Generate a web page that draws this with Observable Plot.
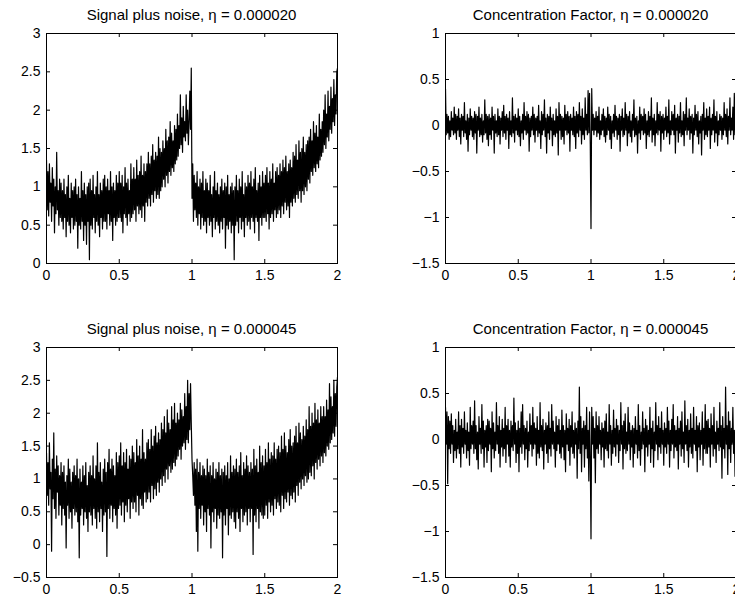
<!DOCTYPE html>
<html>
<head>
<meta charset="utf-8">
<script src="https://cdn.jsdelivr.net/npm/d3@7"></script>
<script src="https://cdn.jsdelivr.net/npm/@observablehq/plot@0.6"></script>
<style>
  html, body { margin: 0; padding: 0; background: #fff; overflow: hidden; }
  #wrap { position: relative; width: 735px; height: 599px; overflow: hidden; font-family: "Liberation Sans", Arial, sans-serif; }
  .panel { position: absolute; }
  .title { position: absolute; width: 291px; text-align: center; font-size: 15px; line-height: 18px; height: 18px; color: #000; white-space: nowrap; }
</style>
</head>
<body>
<div id="wrap"></div>
<script>
// Sampling positions (x from 0 to 2 in steps of 0.005)
const xs = d3.range(0, 401).map(i => i / 200);

// Signal plus noise, eta = 0.000020
const signal020 = [
 1.35,0.70,1.20,0.62,1.30,0.80,1.05,0.55,1.25,0.75,1.10,0.40,1.00,0.65,1.45,0.70,0.95,0.50,1.10,0.60,
 1.05,0.55,0.95,0.45,1.10,0.60,0.90,0.35,1.00,0.55,1.15,0.50,0.85,0.40,1.05,0.60,0.95,0.45,1.00,0.50,
 1.10,0.55,0.90,0.20,1.00,0.50,0.85,0.45,1.20,0.55,0.95,0.30,1.05,0.50,0.90,0.25,1.00,0.55,1.05,0.05,
 1.10,0.50,0.95,0.45,1.15,0.60,0.90,0.40,1.00,0.55,1.20,0.50,0.90,0.35,1.05,0.60,0.95,0.45,1.10,0.55,
 1.15,0.55,1.00,0.45,1.10,0.65,0.95,0.50,1.20,0.55,1.00,0.30,1.05,0.60,0.95,0.50,1.15,0.55,1.05,0.60,
 1.20,0.60,1.05,0.55,1.15,0.40,1.00,0.65,1.25,0.60,1.05,0.50,1.10,0.65,0.95,0.55,1.30,0.60,1.10,0.65,
 1.25,0.70,1.10,0.55,1.35,0.75,1.15,0.65,1.20,0.70,1.40,0.60,1.15,0.75,1.30,0.55,1.20,0.80,1.30,0.75,
 1.45,0.85,1.30,0.75,1.40,0.90,1.55,0.80,1.35,0.95,1.45,0.85,1.40,0.90,1.65,0.85,1.50,0.95,1.45,1.00,
 1.60,1.10,1.50,1.00,1.75,1.15,1.60,1.05,1.65,1.20,1.85,1.15,1.70,1.25,1.60,1.20,1.80,1.30,1.75,1.35,
 1.95,1.40,1.80,1.50,2.20,1.55,1.90,1.45,2.05,1.65,1.85,1.60,2.20,1.70,2.00,1.55,1.85,2.25,1.75,2.55,
 0.85,1.30,0.55,1.15,0.70,1.05,0.60,1.20,0.50,1.00,0.65,1.10,0.45,1.05,0.60,1.20,0.50,0.95,0.55,1.10,
 0.40,1.05,0.60,0.95,0.50,1.15,0.55,0.90,0.35,1.00,0.60,1.20,0.45,0.95,0.55,1.05,0.50,0.90,0.40,1.00,
 0.55,1.10,0.45,0.95,0.60,1.05,0.20,1.00,0.50,1.15,0.45,0.90,0.55,1.00,0.40,1.05,0.50,0.95,0.05,1.00,
 0.50,1.15,0.55,0.95,0.40,1.10,0.60,1.00,0.45,1.20,0.55,0.90,0.35,1.05,0.60,1.00,0.50,1.15,0.55,1.05,
 0.45,1.20,0.60,1.00,0.55,1.10,0.40,1.25,0.60,0.95,0.55,1.05,0.30,1.15,0.60,1.00,0.50,1.20,0.60,1.05,
 0.60,1.15,0.55,1.25,0.65,1.05,0.45,1.20,0.60,1.10,0.65,1.30,0.55,1.05,0.70,1.20,0.60,1.25,0.65,1.15,
 0.70,1.30,0.60,1.20,0.75,1.35,0.65,1.25,0.80,1.40,0.70,1.20,0.75,1.30,0.60,1.35,0.80,1.25,0.75,1.45,
 0.85,1.40,0.80,1.55,0.90,1.35,0.85,1.60,0.95,1.45,0.80,1.50,0.95,1.65,0.90,1.45,1.00,1.55,0.95,1.60,
 1.10,1.65,1.05,1.75,1.20,1.60,1.15,1.85,1.25,1.70,1.20,1.80,1.30,1.65,1.25,1.95,1.35,1.75,1.40,1.85,
 1.45,2.00,1.55,2.20,1.50,1.95,1.65,2.25,1.60,2.05,1.75,2.30,1.70,2.15,1.85,2.40,1.80,2.20,1.95,2.50,
 2.55
];

// Concentration factor, eta = 0.000020
const conc020 = [
 0.40,-0.10,0.12,-0.08,0.10,-0.15,0.05,-0.12,0.15,-0.05,0.08,-0.10,0.20,-0.08,0.12,-0.15,0.10,-0.05,0.18,-0.12,
 0.08,-0.20,0.12,-0.05,0.10,-0.12,0.25,-0.08,0.05,-0.15,0.12,-0.28,0.08,-0.10,0.18,-0.05,0.10,-0.12,0.08,-0.15,
 0.15,-0.08,0.12,-0.30,0.10,-0.05,0.20,-0.12,0.08,-0.10,0.12,-0.18,0.05,-0.10,0.28,-0.08,0.12,-0.15,0.10,-0.22,
 0.12,-0.10,0.08,-0.15,0.20,-0.05,0.10,-0.30,0.12,-0.08,0.05,-0.12,0.18,-0.10,0.10,-0.20,0.08,-0.05,0.15,-0.12,
 0.22,-0.08,0.10,-0.15,0.12,-0.05,0.08,-0.25,0.15,-0.10,0.05,-0.12,0.30,-0.08,0.10,-0.18,0.12,-0.05,0.08,-0.10,
 0.18,-0.12,0.10,-0.22,0.05,-0.08,0.12,-0.15,0.25,-0.05,0.10,-0.10,0.15,-0.08,0.12,-0.28,0.08,-0.12,0.10,-0.05,
 0.20,-0.10,0.12,-0.18,0.08,-0.05,0.10,-0.12,0.22,-0.08,0.05,-0.25,0.15,-0.10,0.12,-0.05,0.28,-0.12,0.08,-0.30,
 0.12,-0.08,0.10,-0.15,0.20,-0.05,0.08,-0.22,0.12,-0.10,0.05,-0.12,0.18,-0.08,0.10,-0.32,0.25,-0.05,0.12,-0.15,
 0.10,-0.12,0.08,-0.20,0.22,-0.05,0.12,-0.10,0.15,-0.08,0.10,-0.28,0.12,-0.05,0.08,-0.10,0.20,-0.12,0.10,-0.25,
 0.15,-0.08,0.12,-0.12,0.25,-0.05,0.10,-0.20,0.18,-0.10,0.08,-0.15,0.30,-0.05,0.12,-0.10,0.38,-0.08,0.35,-0.20,
 -1.12,0.40,-0.05,0.12,-0.10,0.08,-0.05,0.15,-0.12,0.10,-0.08,0.20,-0.15,0.05,-0.10,0.12,-0.05,0.18,-0.12,0.10,
 -0.18,0.08,-0.10,0.20,-0.05,0.12,-0.15,0.10,-0.25,0.05,-0.08,0.12,-0.12,0.22,-0.05,0.10,-0.15,0.08,-0.10,0.12,
 -0.28,0.10,-0.05,0.18,-0.12,0.08,-0.10,0.25,-0.05,0.12,-0.22,0.10,-0.08,0.15,-0.12,0.05,-0.18,0.12,-0.05,0.28,
 -0.12,0.08,-0.10,0.10,-0.30,0.05,-0.08,0.20,-0.15,0.12,-0.05,0.10,-0.10,0.18,-0.08,0.12,-0.25,0.05,-0.10,0.15,
 -0.12,0.10,-0.05,0.30,-0.18,0.08,-0.10,0.12,-0.22,0.05,-0.08,0.25,-0.10,0.12,-0.05,0.15,-0.28,0.10,-0.08,0.12,
 -0.15,0.08,-0.05,0.20,-0.12,0.10,-0.08,0.28,-0.20,0.05,-0.10,0.15,-0.05,0.12,-0.10,0.22,-0.30,0.08,-0.05,0.12,
 -0.18,0.10,-0.08,0.25,-0.12,0.05,-0.10,0.15,-0.22,0.12,-0.05,0.30,-0.10,0.08,-0.05,0.18,-0.15,0.10,-0.08,0.12,
 -0.30,0.08,-0.10,0.22,-0.05,0.12,-0.12,0.15,-0.20,0.05,-0.08,0.10,-0.32,0.12,-0.05,0.25,-0.15,0.08,-0.10,0.18,
 -0.12,0.10,-0.05,0.20,-0.25,0.08,-0.10,0.12,-0.05,0.28,-0.18,0.10,-0.08,0.15,-0.22,0.05,-0.10,0.12,-0.05,0.10,
 -0.15,0.08,-0.10,0.25,-0.05,0.12,-0.12,0.18,-0.20,0.10,-0.05,0.30,-0.10,0.08,-0.05,0.20,-0.15,0.35,-0.10,0.38,
 -1.12
];

// Signal plus noise, eta = 0.000045
const signal045 = [
 1.40,0.75,1.25,0.60,1.55,0.85,1.10,-0.10,1.30,0.70,1.70,0.55,1.15,0.40,1.35,0.80,1.20,0.45,1.05,0.60,
 1.25,0.30,1.10,0.55,1.20,0.45,0.95,-0.05,1.05,0.60,1.30,0.40,1.15,0.50,0.95,0.25,1.10,0.55,1.20,0.45,
 1.05,0.50,1.30,0.35,1.00,-0.20,1.15,0.45,0.95,0.55,1.20,0.30,1.05,0.50,1.25,0.40,0.90,0.20,1.10,0.50,
 1.20,0.45,1.05,0.30,1.35,0.55,1.00,0.40,1.20,0.25,1.55,0.50,1.10,0.35,1.25,0.55,0.95,0.20,1.15,0.45,
 1.30,0.50,1.10,-0.18,1.25,0.55,1.45,0.40,1.15,0.60,1.30,0.35,1.20,0.55,1.05,0.45,1.40,0.25,1.25,0.55,
 1.35,0.60,1.55,0.45,1.20,0.65,1.40,0.35,1.25,0.60,1.45,0.50,1.15,0.70,1.35,0.40,1.30,0.65,1.50,0.55,
 1.40,0.65,1.25,0.50,1.60,0.75,1.35,0.45,1.50,0.70,1.30,0.60,1.75,0.55,1.40,0.80,1.30,0.65,1.55,0.70,
 1.60,0.80,1.45,0.65,1.75,0.90,1.50,0.70,1.65,0.85,1.80,0.75,1.55,0.95,1.70,0.80,1.60,1.00,1.85,0.90,
 1.75,1.05,1.95,0.95,1.70,1.15,2.05,1.00,1.85,1.20,1.75,1.10,2.10,1.15,1.90,1.25,2.15,1.20,1.85,1.30,
 2.00,1.35,1.90,1.45,2.15,1.30,2.05,1.50,1.95,1.55,2.30,1.45,2.10,1.60,2.50,1.55,2.30,1.75,2.45,1.85,
 1.30,1.05,0.75,1.25,0.60,1.15,0.20,1.30,-0.10,1.10,0.55,1.25,0.40,1.05,0.60,1.20,0.30,1.15,0.50,1.05,
 0.20,1.30,0.55,1.10,0.45,1.20,-0.05,1.05,0.50,1.25,0.35,1.00,0.55,1.15,0.25,1.10,0.45,1.25,0.40,1.05,
 0.50,1.15,-0.20,1.10,0.45,1.20,0.30,1.05,0.55,1.25,0.15,1.00,0.45,1.35,0.40,1.10,0.50,1.20,0.35,1.15,
 0.25,1.30,0.50,1.10,0.40,1.20,0.20,1.40,0.55,1.05,0.35,1.25,0.45,1.15,0.50,1.35,0.30,1.20,0.55,1.10,
 0.35,1.25,0.55,1.15,-0.15,1.45,0.45,1.20,0.35,1.30,0.55,1.10,0.25,1.50,0.50,1.25,0.45,1.35,0.40,1.20,
 0.45,1.45,0.60,1.25,0.40,1.55,0.65,1.30,0.50,1.40,0.60,1.35,0.45,1.55,0.70,1.30,0.55,1.45,0.65,1.50,
 0.60,1.40,0.50,1.65,0.75,1.45,0.55,1.70,0.70,1.50,0.65,1.40,0.80,1.60,0.60,1.75,0.75,1.50,0.70,1.55,
 0.80,1.65,0.65,1.80,0.90,1.55,0.75,1.85,0.95,1.70,0.85,1.60,1.00,1.80,0.90,1.65,1.05,1.90,0.95,1.75,
 1.00,2.10,1.10,1.80,1.05,2.00,1.20,1.85,1.00,2.15,1.25,1.90,1.15,2.05,1.30,1.85,1.20,2.10,1.35,1.95,
 1.25,2.10,1.40,1.95,1.35,2.20,1.50,2.05,1.45,2.45,1.55,2.25,1.60,2.10,1.70,2.50,1.65,2.30,1.80,2.40,
 2.55
];

// Concentration factor, eta = 0.000045
const conc045 = [
 0.35,-0.05,0.30,-0.48,0.25,-0.10,0.20,-0.15,0.28,-0.05,0.15,-0.25,0.10,-0.12,0.22,-0.20,0.08,-0.10,0.30,-0.15,
 0.15,-0.30,0.22,-0.08,0.12,-0.15,0.30,-0.05,0.10,-0.20,0.18,-0.12,0.08,-0.28,0.35,-0.10,0.15,-0.05,0.20,-0.15,
 0.42,-0.10,0.15,-0.22,0.08,-0.32,0.25,-0.05,0.12,-0.15,0.38,-0.10,0.20,-0.30,0.10,-0.08,0.15,-0.25,0.22,-0.12,
 0.20,-0.05,0.12,-0.35,0.30,-0.10,0.18,-0.20,0.08,-0.12,0.40,-0.05,0.15,-0.15,0.25,-0.30,0.10,-0.08,0.22,-0.18,
 0.12,-0.10,0.35,-0.25,0.15,-0.05,0.22,-0.18,0.10,-0.30,0.20,-0.08,0.15,-0.12,0.45,-0.05,0.18,-0.25,0.10,-0.15,
 0.20,-0.35,0.12,-0.08,0.30,-0.15,0.38,-0.05,0.15,-0.22,0.12,-0.10,0.20,-0.30,0.08,-0.12,0.28,-0.05,0.15,-0.18,
 0.35,-0.10,0.18,-0.05,0.12,-0.28,0.25,-0.15,0.10,-0.20,0.40,-0.08,0.15,-0.12,0.22,-0.32,0.10,-0.05,0.18,-0.15,
 0.15,-0.25,0.30,-0.10,0.12,-0.18,0.38,-0.05,0.20,-0.10,0.08,-0.30,0.25,-0.12,0.15,-0.05,0.22,-0.15,0.10,-0.20,
 0.32,-0.08,0.15,-0.22,0.10,-0.35,0.28,-0.05,0.12,-0.12,0.22,-0.28,0.15,-0.08,0.30,-0.15,0.10,-0.20,0.18,-0.05,
 0.12,-0.42,0.20,-0.10,0.57,-0.15,0.25,-0.35,0.12,-0.05,0.20,-0.30,0.15,-0.10,0.35,-0.20,0.10,-0.45,0.30,-0.20,
 -1.08,0.35,-0.05,0.25,-0.20,0.12,-0.47,0.30,-0.10,0.15,-0.15,0.25,-0.05,0.10,-0.22,0.18,-0.08,0.12,-0.30,0.20,
 -0.10,0.28,-0.12,0.08,-0.20,0.38,-0.05,0.15,-0.28,0.10,-0.15,0.32,-0.08,0.12,-0.18,0.22,-0.05,0.15,-0.25,0.10,
 -0.12,0.40,-0.05,0.15,-0.32,0.20,-0.10,0.28,-0.15,0.08,-0.12,0.35,-0.05,0.18,-0.22,0.10,-0.08,0.15,-0.30,0.12,
 -0.15,0.25,-0.05,0.10,-0.20,0.38,-0.12,0.15,-0.28,0.08,-0.10,0.30,-0.05,0.12,-0.35,0.22,-0.08,0.15,-0.18,0.10,
 -0.05,0.35,-0.25,0.12,-0.10,0.20,-0.30,0.08,-0.12,0.40,-0.05,0.15,-0.22,0.25,-0.08,0.12,-0.15,0.30,-0.05,0.10,
 -0.28,0.18,-0.08,0.12,-0.15,0.35,-0.05,0.20,-0.30,0.10,-0.12,0.22,-0.05,0.38,-0.20,0.15,-0.08,0.10,-0.12,0.25,
 -0.32,0.12,-0.05,0.20,-0.18,0.30,-0.10,0.08,-0.25,0.42,-0.05,0.15,-0.12,0.22,-0.30,0.10,-0.08,0.28,-0.15,0.12,
 -0.20,0.35,-0.05,0.10,-0.12,0.25,-0.35,0.15,-0.08,0.18,-0.22,0.10,-0.05,0.30,-0.28,0.12,-0.10,0.38,-0.15,0.20,
 -0.15,0.22,-0.08,0.12,-0.30,0.28,-0.05,0.15,-0.18,0.35,-0.10,0.08,-0.25,0.20,-0.05,0.12,-0.12,0.40,-0.08,0.15,
 -0.42,0.25,-0.10,0.12,-0.20,0.57,-0.05,0.15,-0.38,0.30,-0.10,0.20,-0.25,0.12,-0.05,0.35,-0.15,0.10,-0.40,0.28,
 -1.08
];

// Titles and tick labels
const titles = [
  "Signal plus noise, \u03b7 = 0.000020",
  "Concentration Factor, \u03b7 = 0.000020",
  "Signal plus noise, \u03b7 = 0.000045",
  "Concentration Factor, \u03b7 = 0.000045"
];
const xTicks = [0, 0.5, 1, 1.5, 2];
const yTicksSignalTop = [0, 0.5, 1, 1.5, 2, 2.5, 3];
const yTicksSignalBottom = [-0.5, 0, 0.5, 1, 1.5, 2, 2.5, 3];
const yTicksConc = [-1.5, -1, -0.5, 0, 0.5, 1];

const panels = [
  {values: signal020, yDomain: [0, 3], yTicks: yTicksSignalTop, title: titles[0], left: 0, top: 0, ml: 46, w: 370, mr: 33},
  {values: conc020, yDomain: [-1.5, 1], yTicks: yTicksConc, title: titles[1], left: 370, top: 0, ml: 75, w: 366, mr: 0},
  {values: signal045, yDomain: [-0.5, 3], yTicks: yTicksSignalBottom, title: titles[2], left: 0, top: 314, ml: 46, w: 370, mr: 33},
  {values: conc045, yDomain: [-1.5, 1], yTicks: yTicksConc, title: titles[3], left: 370, top: 314, ml: 75, w: 366, mr: 0}
];

const fmt = d => String(d).replace("-", "\u2212");
const wrap = document.getElementById("wrap");
const PW = 291, PH = 230, MT = 33, MB = 37, TICK = 4;

for (const p of panels) {
  const data = p.values.map((v, i) => ({x: xs[i], y: v}));
  const chart = Plot.plot({
    width: p.w,
    height: 300,
    marginLeft: p.ml,
    marginRight: p.mr,
    marginTop: MT,
    marginBottom: MB,
    style: {fontFamily: "'Liberation Sans', Arial, sans-serif", fontSize: "14px", color: "#000", background: "transparent", overflow: "visible"},
    x: {domain: [0, 2], ticks: xTicks, tickSize: 0, tickPadding: 7, tickFormat: fmt, label: null},
    y: {domain: p.yDomain, ticks: p.yTicks, tickSize: 0, tickPadding: 6, tickFormat: fmt, label: null},
    marks: [
      Plot.line(data, {x: "x", y: "y", stroke: "#000", strokeWidth: 1.2, clip: true}),
      Plot.tickX(xTicks, {x: d => d, stroke: "#000", insetTop: PH - TICK}),
      Plot.tickX(xTicks, {x: d => d, stroke: "#000", insetBottom: PH - TICK}),
      Plot.tickY(p.yTicks, {y: d => d, stroke: "#000", insetRight: PW - TICK}),
      Plot.tickY(p.yTicks, {y: d => d, stroke: "#000", insetLeft: PW - TICK}),
      Plot.frame({stroke: "#000", strokeWidth: 1})
    ]
  });
  chart.classList.add("panel");
  chart.style.left = p.left + "px";
  chart.style.top = p.top + "px";
  wrap.appendChild(chart);

  const t = document.createElement("div");
  t.className = "title";
  t.textContent = p.title;
  t.style.left = (p.left + p.ml) + "px";
  t.style.top = (p.top + 6) + "px";
  wrap.appendChild(t);
}
</script>
</body>
</html>
